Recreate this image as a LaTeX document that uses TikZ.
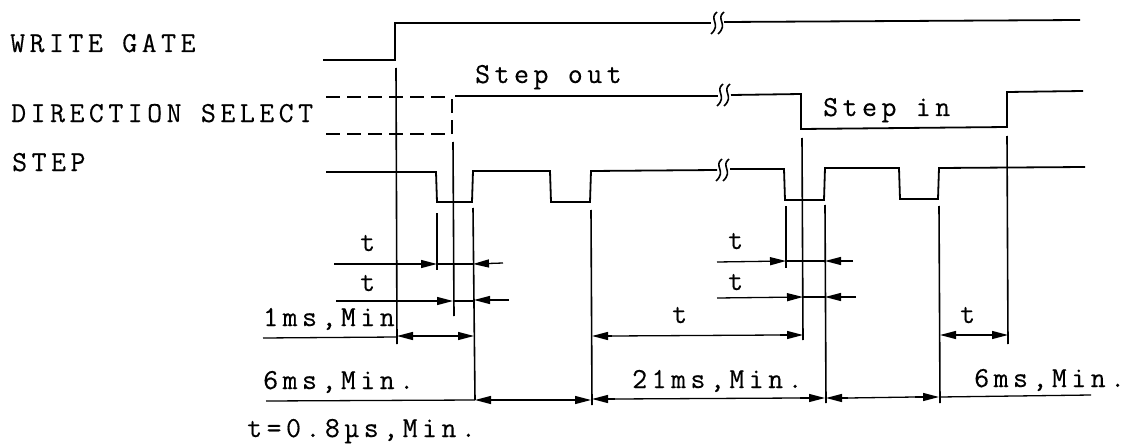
\documentclass[tikz,border=0pt]{standalone}
\usepackage{xcolor}
\usepackage{fontspec}
\setmonofont[LetterSpace=15.5,FakeBold=0.35]{Latin Modern Mono}
\usetikzlibrary{arrows.meta}
\tikzset{
  wave/.style={line width=1.8pt,black},
  guide/.style={line width=1.6pt,black},
  dim/.style={line width=1.3pt,black},
  dimtip/.style={dim,-{Stealth[length=16pt,width=8pt,inset=0pt]}},
  lbl/.style={anchor=base west,inner sep=0pt,font=\fontsize{29}{29}\selectfont\ttfamily},
  breakmark/.pic={
    \draw[line width=1.6pt] (1,-11) .. controls (-8,-4) and (6,1) .. (-5,11);
    \draw[line width=1.6pt] (8,-11) .. controls (-1,-4) and (13,1) .. (2,11);
  }
}
\begin{document}
\begin{tikzpicture}[x=1pt,y=-1pt]
  \useasboundingbox (0,0) rectangle (1128,444);

  % Signal names
  \node[lbl] (writegate) at (10,52) {WRITE GATE};
  \node[lbl] (dirselect) at (11,122) {DIRECTION SELECT};
  \node[lbl] (steplabel) at (12,171) {STEP};
  \node[lbl] (stepout) at (475,83) {Step out};
  \node[lbl] (stepin) at (823,116) {Step in};

  % Write gate
  \draw[wave] (323,60) -- (395,60) -- (395,23) -- (711,23);
  \draw[wave] (724,22) -- (1080,20);
  \pic at (716,23) {breakmark};

  % Direction select
  \draw[wave,dash pattern=on 14pt off 7pt] (326,97) -- (451,97);
  \draw[wave,dash pattern=on 14pt off 7pt] (326,134) -- (452,134) -- (452,97);
  \draw[wave] (455,96) -- (718,96);
  \draw[wave] (731,95) -- (801,94) -- (801,129) -- (1007,127) -- (1007,92) -- (1083,91);
  \pic at (722,95) {breakmark};

  % Step
  \draw[wave] (326,172) -- (436,172) -- (437,202) -- (472,202) -- (473,171) -- (550,171)
    -- (551,202) -- (590,202) -- (591,171) -- (717,170);
  \draw[wave] (730,169) -- (784,169) -- (785,200) -- (824,200) -- (825,168) -- (899,168)
    -- (900,199) -- (938,199) -- (939,168) -- (1085,167);
  \pic at (721,170) {breakmark};

  % Guide lines
  \draw[guide] (396,68) -- (397,344);
  \draw[guide] (453,142) -- (454,316);
  \draw[guide] (802,138) -- (803,340);
  \draw[guide] (1007,136) -- (1008,344);
  \draw[guide] (437,213) -- (437,270);
  \draw[guide] (473,208) -- (475,400);
  \draw[guide] (591,210) -- (592,405);
  \draw[guide] (786,206) -- (786,268);
  \draw[guide] (825,205) -- (826,403);
  \draw[guide] (939,206) -- (940,403);

  % Left t marks
  \node[lbl] (tone) at (360,251) {t};
  \draw[dimtip] (334,264) -- (437,264);
  \draw[dim] (437,264) -- (473,264);
  \draw[dimtip] (503,263) -- (473,264);
  \node[lbl] (ttwo) at (360,291) {t};
  \draw[dimtip] (336,301) -- (453,301);
  \draw[dim] (453,301) -- (474,301);
  \draw[dimtip] (509,300) -- (474,300);
  \node[lbl] (onems) at (263,326) {1ms,Min};
  \draw[dim] (263,338) -- (397,337);
  \draw[dimtip] (420,336) -- (397,336);
  \draw[dim] (420,336) -- (450,336);
  \draw[dimtip] (450,336) -- (474,336);

  % Right t marks
  \node[lbl] (tthree) at (728,249) {t};
  \draw[dimtip] (717,262) -- (786,261);
  \draw[dim] (786,261) -- (825,261);
  \draw[dimtip] (853,261) -- (825,261);
  \node[lbl] (tfour) at (728,290) {t};
  \draw[dimtip] (717,298) -- (803,297);
  \draw[dim] (803,297) -- (825,297);
  \draw[dimtip] (856,297) -- (825,297);
  \node[lbl] (tfive) at (672,323) {t};
  \draw[dim] (612,336) -- (780,335);
  \draw[dimtip] (612,336) -- (592,336);
  \draw[dimtip] (780,335) -- (803,335);
  \node[lbl] (tsix) at (960,323) {t};
  \draw[dim] (960,335) -- (990,335);
  \draw[dimtip] (960,335) -- (940,335);
  \draw[dimtip] (990,335) -- (1008,335);

  % Bottom line
  \node[lbl] (sixleft) at (263,389) {6ms,Min.};
  \node[lbl] (tmiddle) at (632,388) {21ms,Min.};
  \node[lbl] (sixright) at (974,387) {6ms,Min.};
  \draw[dim] (266,401) -- (475,400);
  \draw[dimtip] (500,400) -- (475,400);
  \draw[dim] (500,400) -- (565,400);
  \draw[dimtip] (565,400) -- (591,400);
  \draw[dimtip] (615,399) -- (592,399);
  \draw[dim] (615,399) -- (800,398);
  \draw[dimtip] (800,398) -- (825,398);
  \draw[dimtip] (848,398) -- (826,398);
  \draw[dim] (848,398) -- (915,397);
  \draw[dimtip] (915,397) -- (939,397);
  \draw[dim] (940,397) -- (1091,395);

  % Note
  \node[lbl] (note) at (247,437) {t=0.8µs,Min.};
\end{tikzpicture}
\end{document}
